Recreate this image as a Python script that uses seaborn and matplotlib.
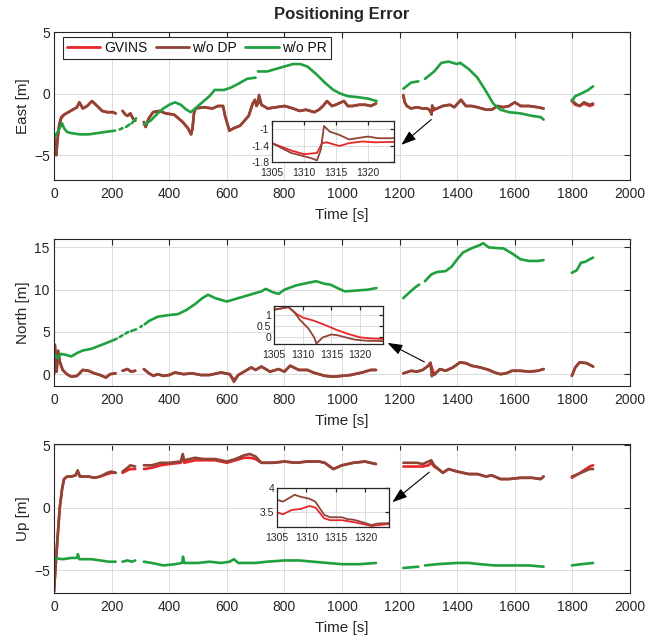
import numpy as np
import pandas as pd
import matplotlib
matplotlib.use("Agg")
import matplotlib.pyplot as plt
from matplotlib.lines import Line2D
import seaborn as sns

# ---------------- data (time [s], error [m]); None marks a gap ----------------
series_names = ["GVINS", "w/o DP", "w/o PR"]
x_ticks = list(range(0, 2001, 200))

east_dp = [(0,-3.6),(3,-4.0),(8,-5.0),(12,-3.8),(18,-2.6),(25,-2.0),(35,-1.7),(50,-1.5),(65,-1.3),(80,-1.1),(88,-0.7),(100,-1.2),(115,-1.0),(132,-0.6),(150,-1.0),(167,-1.4),(185,-1.5),(204,-1.5),(214,-1.6), None,
 (238,-1.4),(248,-1.7),(256,-1.8),(265,-1.6),(274,-2.0),(282,-2.2), None,
 (312,-2.3),(318,-2.7),(329,-2.0),(344,-1.5),(365,-1.4),(388,-1.6),(417,-1.7),(447,-2.3),(465,-2.8),(476,-3.3),(481,-2.8),(486,-1.6),(491,-1.2),(520,-1.1),(550,-1.2),(570,-1.0),(587,-1.0),(594,-1.8),(609,-3.0),(624,-2.8),(646,-2.6),(661,-2.2),(676,-1.8),(690,-0.8),(698,-0.5),(703,-1.0),(708,-0.8),(712,-0.1),(720,-0.9),(742,-1.2),(771,-1.1),(801,-1.0),(830,-1.2),(853,-1.4),(875,-1.3),(904,-1.5),(920,-1.3),(934,-1.0),(948,-0.6),(965,-1.0),(978,-0.9),(1007,-0.6),(1020,-1.0),(1037,-1.0),(1060,-0.9),(1081,-0.9),(1100,-1.0),(1118,-0.8), None,
 (1213,-0.1),(1218,-0.7),(1225,-1.0),(1240,-1.2),(1260,-1.1),(1280,-1.2),(1296,-1.2),(1305,-1.35),(1311,-1.7),(1313,-0.95),(1318,-1.2),(1330,-1.2),(1350,-1.0),(1375,-0.9),(1390,-1.1),(1413,-0.5),(1430,-1.0),(1450,-1.0),(1470,-1.1),(1500,-1.3),(1520,-1.3),(1540,-1.0),(1560,-1.1),(1580,-1.0),(1600,-0.7),(1620,-1.0),(1650,-1.0),(1680,-1.1),(1700,-1.2), None,
 (1798,-0.5),(1810,-0.8),(1825,-1.0),(1840,-0.7),(1860,-0.9),(1872,-0.8)]

east_gvins = [(0,-3.4),(3,-3.9),(8,-4.8),(12,-3.7),(18,-2.5),(25,-1.9),(35,-1.7),(50,-1.5),(65,-1.3),(80,-1.1),(88,-0.7),(100,-1.2),(115,-1.0),(132,-0.6),(150,-1.0),(167,-1.4),(185,-1.5),(204,-1.5),(214,-1.6), None,
 (238,-1.4),(248,-1.7),(256,-1.8),(265,-1.6),(274,-2.0),(282,-2.2), None,
 (312,-2.3),(318,-2.7),(329,-2.0),(344,-1.5),(365,-1.4),(388,-1.6),(417,-1.7),(447,-2.3),(465,-2.8),(476,-3.3),(481,-2.8),(486,-1.6),(491,-1.2),(520,-1.1),(550,-1.2),(570,-1.0),(587,-1.0),(594,-1.8),(609,-3.0),(624,-2.8),(646,-2.6),(661,-2.2),(676,-1.8),(690,-0.8),(698,-0.5),(703,-1.0),(708,-0.8),(712,-0.2),(720,-0.9),(742,-1.2),(771,-1.1),(801,-1.0),(830,-1.2),(853,-1.4),(875,-1.3),(904,-1.5),(920,-1.3),(934,-1.0),(948,-0.6),(965,-1.0),(978,-0.9),(1007,-0.6),(1020,-1.0),(1037,-1.0),(1060,-0.9),(1081,-0.9),(1100,-1.0),(1118,-0.8), None,
 (1213,-0.2),(1218,-0.7),(1225,-1.0),(1240,-1.2),(1260,-1.1),(1280,-1.2),(1296,-1.2),(1305,-1.35),(1311,-1.6),(1313,-1.35),(1318,-1.35),(1330,-1.2),(1350,-1.0),(1375,-0.9),(1390,-1.1),(1413,-0.5),(1430,-1.0),(1450,-1.0),(1470,-1.1),(1500,-1.3),(1520,-1.3),(1540,-1.0),(1560,-1.1),(1580,-1.0),(1600,-0.7),(1620,-1.0),(1650,-1.0),(1680,-1.1),(1700,-1.2), None,
 (1798,-0.6),(1810,-0.9),(1825,-1.0),(1840,-0.8),(1860,-1.0),(1872,-0.9)]

east_pr = [(0,-3.6),(10,-3.2),(20,-2.8),(28,-2.4),(35,-2.8),(45,-3.1),(60,-3.2),(90,-3.3),(120,-3.3),(150,-3.2),(180,-3.1),(212,-3.0), None,
 (228,-2.9),(238,-2.8), None, (250,-2.7),(262,-2.5), None, (270,-2.4),(285,-2.0), None,
 (312,-2.5),(335,-2.2),(360,-1.6),(380,-1.2),(400,-0.9),(420,-0.7),(440,-0.9),(460,-1.3),(475,-1.5),(490,-1.2),(520,-0.6),(540,-0.2),(558,0.3),(590,0.3),(615,0.5),(640,0.8),(670,1.2),(700,1.3), None,
 (708,1.8),(740,1.8),(770,2.0),(800,2.2),(830,2.4),(855,2.4),(880,2.2),(910,1.6),(940,0.9),(970,0.3),(995,0.0),(1020,-0.2),(1060,-0.3),(1090,-0.4),(1120,-0.6), None,
 (1213,0.4),(1240,0.9),(1265,1.0), None,
 (1288,1.2),(1320,1.8),(1345,2.5),(1370,2.6),(1400,2.4),(1410,2.5),(1440,2.0),(1470,1.3),(1500,0.2),(1525,-0.8),(1550,-1.3),(1580,-1.5),(1620,-1.6),(1660,-1.8),(1690,-1.9),(1700,-2.1), None,
 (1798,-0.6),(1810,-0.2),(1830,0.0),(1855,0.3),(1872,0.6)]

north_dp = [(0,0.0),(3,3.5),(6,1.0),(9,0.3),(14,2.8),(20,1.5),(30,0.5),(45,0.0),(60,-0.3),(80,-0.2),(100,0.5),(120,0.4),(140,0.1),(160,-0.1),(180,-0.4),(195,0.0),(214,0.1), None,
 (238,0.4),(255,0.6),(268,0.3),(282,0.4), None,
 (312,0.6),(330,0.1),(345,-0.2),(360,0.0),(380,-0.2),(400,-0.1),(420,0.2),(450,0.0),(480,0.1),(510,-0.1),(540,-0.1),(580,0.2),(610,0.0),(625,-0.9),(640,-0.1),(660,0.3),(685,0.8),(700,0.5),(720,0.9),(750,0.3),(780,0.6),(800,0.3),(820,1.0),(850,0.5),(880,0.5),(900,0.2),(940,-0.2),(970,-0.3),(1000,-0.2),(1030,-0.1),(1070,0.2),(1100,0.5),(1118,0.5), None,
 (1213,0.1),(1240,0.4),(1260,0.3),(1280,0.5),(1300,1.0),(1307,1.35),(1312,-0.25),(1315,0.1),(1320,-0.1),(1340,0.6),(1360,0.4),(1385,0.8),(1410,1.4),(1430,1.3),(1450,1.0),(1480,0.8),(1510,0.5),(1530,0.2),(1550,0.0),(1570,0.1),(1590,0.4),(1620,0.4),(1650,0.3),(1680,0.4),(1700,0.6), None,
 (1798,-0.2),(1810,0.8),(1825,1.4),(1850,1.3),(1872,0.9)]

north_gvins = [(0,0.0),(3,3.3),(6,1.0),(9,0.3),(14,2.6),(20,1.5),(30,0.5),(45,0.0),(60,-0.3),(80,-0.2),(100,0.5),(120,0.4),(140,0.1),(160,-0.1),(180,-0.4),(195,0.0),(214,0.1), None,
 (238,0.4),(255,0.6),(268,0.3),(282,0.4), None,
 (312,0.6),(330,0.1),(345,-0.2),(360,0.0),(380,-0.2),(400,-0.1),(420,0.2),(450,0.0),(480,0.1),(510,-0.1),(540,-0.1),(580,0.2),(610,0.0),(625,-0.7),(640,-0.1),(660,0.3),(685,0.8),(700,0.5),(720,0.9),(750,0.3),(780,0.6),(800,0.3),(820,1.0),(850,0.5),(880,0.5),(900,0.2),(940,-0.2),(970,-0.3),(1000,-0.2),(1030,-0.1),(1070,0.2),(1100,0.5),(1118,0.5), None,
 (1213,0.1),(1240,0.4),(1260,0.3),(1280,0.5),(1300,1.0),(1307,1.35),(1312,0.75),(1316,0.33),(1320,0.0),(1340,0.6),(1360,0.4),(1385,0.8),(1410,1.4),(1430,1.3),(1450,1.0),(1480,0.8),(1510,0.5),(1530,0.2),(1550,0.0),(1570,0.1),(1590,0.4),(1620,0.4),(1650,0.3),(1680,0.4),(1700,0.6), None,
 (1798,-0.2),(1810,0.8),(1825,1.4),(1850,1.3),(1872,0.9)]

north_pr = [(0,2.0),(5,2.3),(12,1.9),(25,2.4),(40,2.3),(60,2.1),(80,2.5),(100,2.8),(130,3.0),(160,3.4),(190,3.8),(218,4.2), None,
 (228,4.4),(238,4.6), None, (248,4.8),(258,5.0), None, (268,5.1),(285,5.3), None, (300,5.6),(305,5.7), None,
 (315,5.9),(330,6.3),(360,6.8),(400,7.0),(430,7.1),(460,7.6),(490,8.3),(515,9.0),(535,9.4),(560,9.0),(600,8.6),(640,9.0),(680,9.4),(720,9.8),(735,10.1),(760,9.7),(780,9.5),(800,10.0),(840,10.5),(880,10.8),(910,11.0),(940,10.7),(960,10.6),(990,10.1),(1010,9.8),(1050,9.9),(1090,10.0),(1120,10.2), None,
 (1213,9.0),(1235,9.7),(1255,10.3),(1268,10.6), None,
 (1288,11.0),(1310,11.8),(1330,12.1),(1360,12.2),(1380,12.7),(1400,13.6),(1420,14.4),(1450,14.9),(1480,15.3),(1490,15.5),(1510,15.0),(1550,14.9),(1560,14.9),(1590,14.3),(1620,13.6),(1650,13.4),(1680,13.4),(1700,13.5), None,
 (1798,12.0),(1815,12.3),(1830,13.2),(1845,13.3),(1860,13.6),(1872,13.8)]

up_dp = [(0,-6.7),(6,-4.5),(12,-2.5),(20,0.0),(28,1.5),(35,2.3),(45,2.5),(60,2.5),(75,2.6),(82,3.0),(90,2.5),(120,2.5),(140,2.4),(160,2.5),(185,2.8),(200,2.9),(214,2.8), None,
 (238,2.9),(255,3.2),(265,3.4),(282,3.3), None,
 (312,3.4),(340,3.4),(370,3.6),(400,3.6),(440,3.7),(447,4.3),(452,3.8),(490,4.0),(520,3.9),(560,3.9),(600,3.7),(630,3.9),(660,4.2),(680,4.3),(700,4.1),(720,3.6),(760,3.6),(800,3.7),(840,3.6),(880,3.7),(920,3.7),(940,3.6),(970,3.1),(1000,3.4),(1040,3.6),(1080,3.7),(1118,3.5), None,
 (1213,3.6),(1260,3.6),(1280,3.5),(1300,3.7),(1310,3.8),(1320,3.4),(1340,3.0),(1350,2.8),(1370,3.1),(1400,2.9),(1440,2.7),(1470,2.7),(1500,2.5),(1520,2.6),(1550,2.3),(1580,2.3),(1620,2.4),(1660,2.4),(1690,2.3),(1700,2.5), None,
 (1798,2.5),(1820,2.7),(1840,2.9),(1860,3.1),(1872,3.1)]

up_gvins = [(0,-6.7),(6,-4.5),(12,-2.5),(20,0.0),(28,1.5),(35,2.3),(45,2.5),(60,2.5),(75,2.6),(82,2.9),(90,2.5),(120,2.5),(140,2.4),(160,2.5),(185,2.7),(200,2.8),(214,2.8), None,
 (238,2.8),(255,3.0),(265,3.1),(282,3.1), None,
 (312,3.1),(340,3.2),(370,3.4),(400,3.5),(440,3.6),(447,4.1),(452,3.6),(490,3.8),(520,3.8),(560,3.8),(600,3.6),(630,3.8),(660,4.0),(680,4.0),(700,3.9),(720,3.6),(760,3.6),(800,3.7),(840,3.6),(880,3.7),(920,3.7),(940,3.6),(970,3.1),(1000,3.4),(1040,3.6),(1080,3.7),(1118,3.5), None,
 (1213,3.3),(1260,3.3),(1280,3.3),(1300,3.4),(1310,3.6),(1320,3.3),(1340,3.0),(1350,2.8),(1370,3.1),(1400,2.9),(1440,2.7),(1470,2.7),(1500,2.5),(1520,2.6),(1550,2.3),(1580,2.3),(1620,2.4),(1660,2.4),(1690,2.3),(1700,2.5), None,
 (1798,2.4),(1820,2.7),(1840,3.0),(1860,3.3),(1872,3.4)]

up_pr = [(0,-4.0),(30,-4.1),(60,-4.0),(80,-4.0),(83,-3.7),(88,-4.1),(130,-4.1),(160,-4.2),(190,-4.3),(214,-4.3), None,
 (238,-4.3),(255,-4.2),(270,-4.3),(282,-4.2), None,
 (312,-4.3),(340,-4.4),(380,-4.6),(420,-4.5),(445,-4.4),(448,-3.9),(452,-4.4),(500,-4.4),(540,-4.3),(580,-4.4),(610,-4.3),(625,-4.1),(640,-4.4),(660,-4.4),(700,-4.4),(740,-4.3),(800,-4.2),(850,-4.2),(900,-4.3),(950,-4.4),(1000,-4.5),(1060,-4.5),(1118,-4.4), None,
 (1213,-4.8),(1265,-4.7), None,
 (1288,-4.6),(1330,-4.5),(1400,-4.4),(1440,-4.4),(1480,-4.5),(1530,-4.6),(1600,-4.6),(1650,-4.6),(1700,-4.7), None,
 (1798,-4.6),(1830,-4.5),(1872,-4.4)]

# zoomed windows (1305-1324 s)
east_zoom_gvins = [(1305,-1.34),(1308,-1.52),(1310,-1.61),(1312,-1.58),(1312.8,-1.34),(1313.5,-1.32),(1315.5,-1.41),(1317,-1.34),(1319,-1.30),(1321,-1.32),(1324,-1.31)]
east_zoom_dp = [(1305,-1.34),(1308,-1.58),(1311,-1.70),(1312,-1.76),(1312.6,-1.50),(1313.1,-0.92),(1314,-1.06),(1315.5,-1.14),(1317,-1.25),(1319,-1.20),(1320,-1.18),(1321.5,-1.22),(1324,-1.22)]
north_zoom_gvins = [(1305,1.25),(1307.5,1.37),(1309,1.05),(1310,0.90),(1312,0.75),(1314,0.55),(1316,0.33),(1318,0.15),(1320,0.0),(1322,-0.05),(1324,-0.07)]
north_zoom_dp = [(1305,1.25),(1307.5,1.37),(1308.5,1.15),(1309.5,0.80),(1311,0.40),(1312,0.0),(1312.4,-0.28),(1313.5,0.0),(1315,0.13),(1316,0.10),(1317.5,0.0),(1319,-0.10),(1321,-0.15),(1324,-0.17)]
up_zoom_gvins = [(1305,3.50),(1306,3.46),(1307.5,3.55),(1309,3.57),(1310.5,3.63),(1311.5,3.60),(1313,3.38),(1314,3.34),(1316,3.34),(1318,3.30),(1320,3.25),(1321,3.22),(1323,3.25),(1324,3.26)]
up_zoom_dp = [(1305,3.76),(1306,3.72),(1308,3.86),(1309,3.82),(1310.5,3.78),(1311.5,3.72),(1313,3.45),(1314,3.40),(1316,3.40),(1317,3.36),(1318,3.35),(1320,3.28),(1321,3.24),(1322,3.27),(1324,3.28)]

colors = {"GVINS": "#E8262A", "w/o DP": "#8E4535", "w/o PR": "#20A03E"}


def to_frame(points, name):
    rows, seg = [], 0
    for p in points:
        if p is None:
            seg += 1
            continue
        rows.append({"t": p[0], "v": p[1], "series": name, "seg": f"{name}_{seg}"})
    return pd.DataFrame(rows)


def build(gv, dp, pr):
    frames = [to_frame(gv, "GVINS"), to_frame(dp, "w/o DP")]
    if pr is not None:
        frames.append(to_frame(pr, "w/o PR"))
    return pd.concat(frames, ignore_index=True)


sns.set_style("white")
plt.rcParams["font.family"] = ["Liberation Sans", "DejaVu Sans"]
TXT = "#262626"

W, H = 658, 639
fig = plt.figure(figsize=(W / 100, H / 100), dpi=100)


def fr(l, t, r, b):
    return [l / W, 1 - b / H, (r - l) / W, (b - t) / H]


def style(ax, fs=10, lw=0.8, xpad=3, ypad=3):
    for s in ax.spines.values():
        s.set_color(TXT)
        s.set_linewidth(lw)
        s.set_visible(True)
    ax.tick_params(direction="in", top=True, right=True, length=4 if fs >= 9 else 3,
                   width=lw, colors=TXT, labelsize=fs)
    ax.tick_params(axis="x", pad=xpad)
    ax.tick_params(axis="y", pad=ypad)
    ax.grid(True, color="#DCDCDC", linewidth=0.7)
    ax.set_axisbelow(True)


panels = [
    ("East [m]", build(east_gvins, east_dp, east_pr), (-7, 5), [-5, 0, 5], (54, 32, 630, 180)),
    ("North [m]", build(north_gvins, north_dp, north_pr), (-1.4, 16), [0, 5, 10, 15], (54, 239, 630, 386)),
    ("Up [m]", build(up_gvins, up_dp, up_pr), (-6.8, 5.1), [-5, 0, 5], (54, 444, 630, 593)),
]
insets = [
    (build(east_zoom_gvins, east_zoom_dp, None), (-1.8, -0.8), [-1.8, -1.4, -1.0], ["-1.8", "-1.4", "-1"], (272, 121, 394, 162)),
    (build(north_zoom_gvins, north_zoom_dp, None), (-0.3, 1.42), [0, 0.5, 1], ["0", "0.5", "1"], (274, 306, 383, 344)),
    (build(up_zoom_gvins, up_zoom_dp, None), (3.2, 4.0), [3.5, 4.0], ["3.5", "4"], (277, 488, 389, 527)),
]
arrows = [((1310, -2.1), (1206, -4.15)), ((1286, 1.45), (1158, 3.7)), ((1303, 2.85), (1175, 0.45))]

for i, (ylab, df, ylim, yt, box) in enumerate(panels):
    ax = fig.add_axes(fr(*box))
    sns.lineplot(data=df, x="t", y="v", hue="series", hue_order=series_names, units="seg",
                 estimator=None, sort=False, palette=colors, linewidth=1.9, legend=False, ax=ax)
    ax.set_xlim(0, 2000)
    ax.set_ylim(*ylim)
    ax.set_xticks(x_ticks)
    ax.set_yticks(yt)
    style(ax, xpad=5)
    ax.set_xlabel("Time [s]", fontsize=11, color=TXT, labelpad=5)
    ax.set_ylabel(ylab, fontsize=11, color=TXT, labelpad=3)
    tail, head = arrows[i]
    ax.annotate("", xy=head, xytext=tail,
                arrowprops=dict(arrowstyle="-|>,head_length=0.9,head_width=0.32", color="black",
                                lw=0.8, shrinkA=0, shrinkB=0))
    if i == 0:
        ax.set_title("Positioning Error", fontsize=12, fontweight="bold", color=TXT, pad=9)
        handles = [Line2D([0], [0], color=colors[n], lw=2) for n in series_names]
        leg = ax.legend(handles, series_names, loc="upper left", ncol=3, fontsize=10,
                        frameon=True, fancybox=False, edgecolor=TXT, handlelength=2.4,
                        handletextpad=0.25, columnspacing=0.6, borderpad=0.3,
                        borderaxespad=0, framealpha=1,
                        bbox_to_anchor=(0.0156, 0.966))
        leg.get_frame().set_linewidth(0.8)
        for t in leg.get_texts():
            t.set_color("#111111")

for df, ylim, yt, ytl, box in insets:
    ax = fig.add_axes(fr(*box))
    ax.set_facecolor("white")
    sns.lineplot(data=df, x="t", y="v", hue="series", hue_order=series_names[:2], units="seg",
                 estimator=None, sort=False, palette=colors, linewidth=1.3, legend=False, ax=ax)
    ax.set_xlim(1305, 1324)
    ax.set_ylim(*ylim)
    ax.set_xticks([1305, 1310, 1315, 1320])
    ax.set_yticks(yt)
    ax.set_yticklabels(ytl)
    style(ax, fs=7.5, lw=0.9, xpad=4, ypad=2)
    ax.set_xlabel("")
    ax.set_ylabel("")

fig.savefig("out.png", dpi=100)
